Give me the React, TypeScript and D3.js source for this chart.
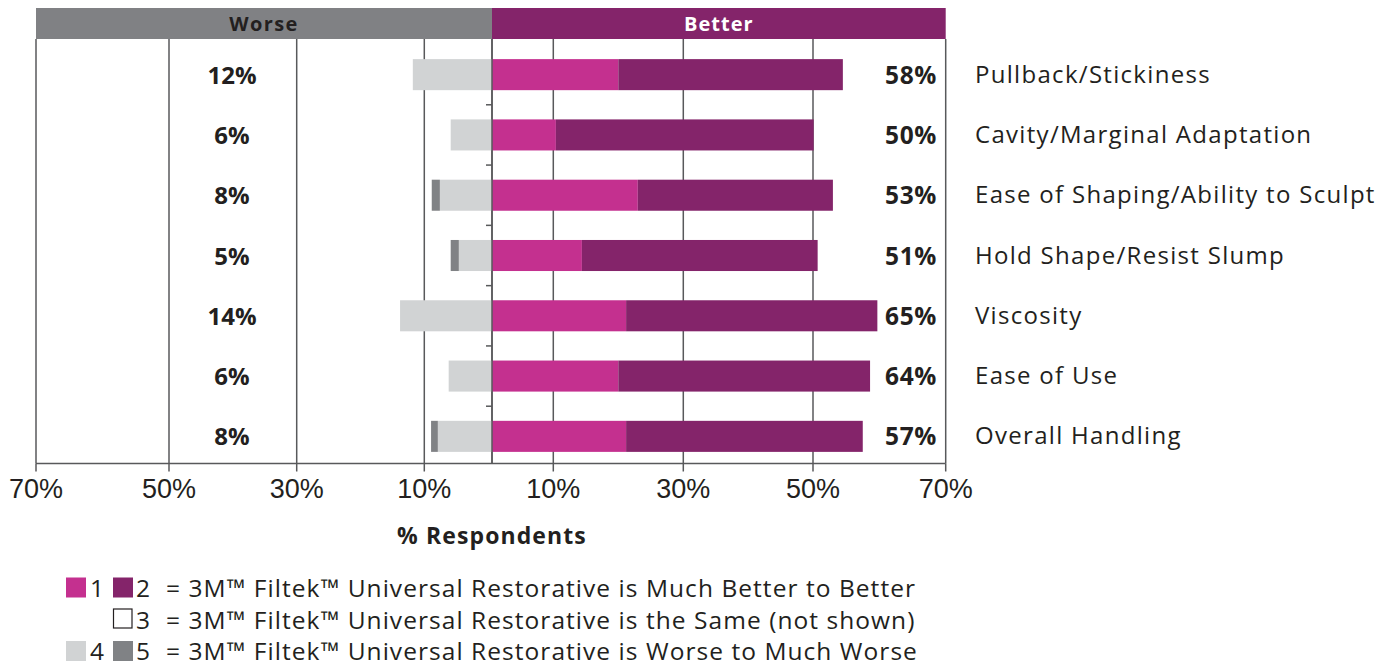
import React from "react";
import * as d3 from "d3";

const categories = [
  "Pullback/Stickiness",
  "Cavity/Marginal Adaptation",
  "Ease of Shaping/Ability to Sculpt",
  "Hold Shape/Resist Slump",
  "Viscosity",
  "Ease of Use",
  "Overall Handling",
];
const muchBetter = [20, 10.4, 23, 14.4, 21.2, 20, 21.2];
const better = [34.5, 39.7, 30, 36.3, 38.5, 38.6, 36.3];
const worse = [11.8, 6.1, 7.7, 4.9, 13.8, 6.4, 8.0];
const muchWorse = [0, 0, 1.2, 1.2, 0, 0, 1.0];
const betterLabels = ["58%", "50%", "53%", "51%", "65%", "64%", "57%"];
const worseLabels = ["12%", "6%", "8%", "5%", "14%", "6%", "8%"];
const tickValues = [-70, -50, -30, -10, 10, 30, 50, 70];
const tickLabels = ["70%", "50%", "30%", "10%", "10%", "30%", "50%", "70%"];
const gridValues = [-70, -50, -30, -10, 0, 10, 30, 50, 70];

const C_PINK = "#c4308f";
const C_PURPLE = "#84246a";
const C_LIGHT = "#d1d3d4";
const C_DARK = "#808285";
const C_TEXT = "#231f20";
const C_GRID = "#58595b";
const FONT = "'Open Sans', Lato, sans-serif";
const TICK_FONT = "'Liberation Sans', Arial, sans-serif";

export default function App() {
  const W = 1393;
  const H = 667;
  const x = d3
    .scaleLinear()
    .domain([-70, -50, -30, -10, 0, 10, 30, 50, 70])
    .range([36, 169, 296.7, 424.3, 492, 553.3, 683.3, 813, 945.7]);
  const y = d3
    .scaleBand<string>()
    .domain(categories)
    .range([44.5, 466.5])
    .paddingInner(0.485)
    .paddingOuter(0.2425);
  const bw = y.bandwidth();
  const step = y.step();
  const axisY = 463.5;
  const top = 39;
  const x0 = x(0);

  return (
    <svg
      width={W}
      height={H}
      style={{ position: "absolute", left: 0, top: 0, display: "block", background: "#fff", fontVariantLigatures: "none" }}
    >
      {/* header */}
      <rect x={x(-70)} y={8} width={x0 - x(-70)} height={top - 8} fill="#808184" />
      <rect x={x0} y={8} width={x(70) - x0} height={top - 8} fill={C_PURPLE} />
      <text x={(x(-70) + x0) / 2} y={31} textAnchor="middle" fontFamily={FONT} fontWeight={700} fontSize={20} letterSpacing={1.4} fill={C_TEXT}>
        Worse
      </text>
      <text x={(x0 + x(70)) / 2} y={31} textAnchor="middle" fontFamily={FONT} fontWeight={700} fontSize={20} letterSpacing={1} fill="#fff">
        Better
      </text>

      {/* gridlines */}
      {gridValues.map((v) => (
        <line key={"g" + v} x1={x(v)} x2={x(v)} y1={top} y2={axisY} stroke={C_GRID} strokeWidth={1.5} />
      ))}

      {/* bars */}
      {categories.map((c, i) => {
        const yy = y(c)!;
        return (
          <g key={c}>
            <rect x={x(-worse[i])} y={yy} width={x0 - x(-worse[i])} height={bw} fill={C_LIGHT} />
            {muchWorse[i] > 0 && (
              <rect
                x={x(-worse[i] - muchWorse[i])}
                y={yy}
                width={x(-worse[i]) - x(-worse[i] - muchWorse[i])}
                height={bw}
                fill={C_DARK}
              />
            )}
            <rect x={x0} y={yy} width={x(muchBetter[i]) - x0} height={bw} fill={C_PINK} />
            <rect
              x={x(muchBetter[i])}
              y={yy}
              width={x(muchBetter[i] + better[i]) - x(muchBetter[i])}
              height={bw}
              fill={C_PURPLE}
            />
          </g>
        );
      })}

      {/* center line ticks between rows */}
      {categories.slice(1).map((c) => {
        const yb = y(c)! - (step - bw) / 2;
        return <line key={"t" + c} x1={x0 - 6} x2={x0} y1={yb} y2={yb} stroke={C_GRID} strokeWidth={1.5} />;
      })}
      <line x1={x0} x2={x0} y1={top} y2={axisY} stroke={C_GRID} strokeWidth={1.5} />

      {/* axis */}
      <line x1={x(-70)} x2={x(70)} y1={axisY} y2={axisY} stroke={C_GRID} strokeWidth={1.5} />
      {tickValues.map((v, i) => (
        <g key={"tk" + v}>
          <line x1={x(v)} x2={x(v)} y1={axisY} y2={axisY + 8} stroke={C_GRID} strokeWidth={1.5} />
          <text x={x(v)} y={498} textAnchor="middle" fontFamily={TICK_FONT} fontSize={27} fill={C_TEXT}>
            {tickLabels[i]}
          </text>
        </g>
      ))}

      {/* value labels */}
      {categories.map((c, i) => {
        const cy = y(c)! + bw / 2;
        return (
          <g key={"l" + c}>
            <text x={232} y={cy + 9} textAnchor="middle" fontFamily={FONT} fontWeight={700} fontSize={24} fill={C_TEXT}>
              {worseLabels[i]}
            </text>
            <text x={937} y={cy + 9} textAnchor="end" fontFamily={FONT} fontWeight={700} fontSize={24.5} letterSpacing={0.6} fill={C_TEXT}>
              {betterLabels[i]}
            </text>
            <text x={975} y={cy + 8} fontFamily={FONT} fontSize={24} letterSpacing={1.3} fill={C_TEXT}>
              {c}
            </text>
          </g>
        );
      })}

      {/* axis title */}
      <text x={x0} y={544} textAnchor="middle" fontFamily={FONT} fontWeight={700} fontSize={23} letterSpacing={1.1} fill={C_TEXT}>
        % Respondents
      </text>

      {/* legend */}
      <g fontFamily={FONT} fontSize={24.5} fill={C_TEXT}>
        <rect x={66} y={577.5} width={20} height={20} fill={C_PINK} />
        <text x={90} y={597}>1</text>
        <rect x={113} y={577.5} width={20} height={20} fill={C_PURPLE} />
        <text x={136} y={597}>2</text>
        <text x={166} y={597} letterSpacing={1.05}>= 3M™ Filtek™ Universal Restorative is Much Better to Better</text>

        <rect x={113.5} y={609} width={18.5} height={19} fill="#fff" stroke={C_TEXT} strokeWidth={1.2} />
        <text x={136} y={628.5}>3</text>
        <text x={166} y={628.5} letterSpacing={1.05}>= 3M™ Filtek™ Universal Restorative is the Same (not shown)</text>

        <rect x={66} y={641} width={20} height={20} fill={C_LIGHT} />
        <text x={90} y={660}>4</text>
        <rect x={113} y={641} width={20} height={20} fill={C_DARK} />
        <text x={136} y={660}>5</text>
        <text x={166} y={660} letterSpacing={1.05}>= 3M™ Filtek™ Universal Restorative is Worse to Much Worse</text>
      </g>
    </svg>
  );
}
